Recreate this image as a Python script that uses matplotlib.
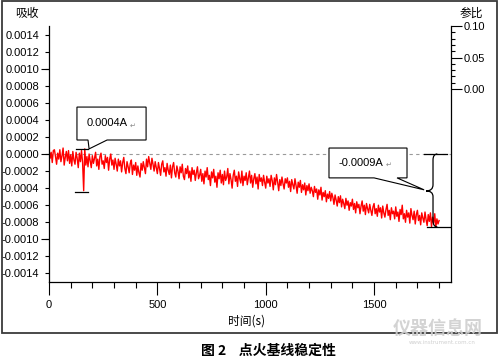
import numpy as np
import matplotlib
matplotlib.use("Agg")
import matplotlib.pyplot as plt
from matplotlib.patches import Polygon, Rectangle, PathPatch
from matplotlib.path import Path
from matplotlib.ticker import FixedLocator

plt.rcParams['font.family'] = ['Liberation Sans', 'DejaVu Sans']
plt.rcParams['axes.unicode_minus'] = False
CJK = ['Noto Sans CJK SC', 'DejaVu Sans']

# ---- data (time step 5 s, absorbance in units of 1e-4 A) ----
absorb_e4 = [
    0.6, -0.5, 0.2, -1.0, 0.4, 0.5, -0.3, -1.2, 0.1, -0.6, 0.5, -0.9, -0.2, 0.7, -1.3, -0.4, 0.3, -0.8, 0.4, -1.1,
    -0.1, -1.4, 0.3, -0.7, -1.2, 0.2, -0.5, -1.6, 0.1, -0.9, 0.4, -1.0, -4.3, 0.6, -1.3, -0.3, -1.5, 0.0, -0.8, -1.6,
    -0.2, -1.1, -0.5, 0.2, -1.4, -0.6, -1.8, -0.3, 0.1, -1.2, -0.8, -1.7, -0.2, -1.0, -0.4, -1.9, -0.6, 0.0, -1.3, -0.7,
    -1.8, -0.5, -1.2, -2.0, -0.6, -1.4, -0.8, -2.1, -1.0, -0.4, -1.7, -2.3, -0.9, -1.5, -2.2, -1.1, -0.7, -2.4, -1.3, -1.9,
    -1.0, -2.5, -1.4, -2.2, -2.7, -1.1, -1.9, -0.9, -1.6, -2.3, -0.6, -1.5, -0.3, -1.1, -1.8, -0.5, -1.2, -2.0, -0.9, -1.6,
    -2.3, -1.0, -1.7, -2.5, -1.2, -0.8, -2.1, -1.6, -2.6, -1.1, -1.9, -2.4, -1.3, -2.8, -1.5, -1.0, -2.2, -2.7, -1.4, -2.0,
    -2.9, -1.5, -2.2, -1.2, -2.6, -3.0, -1.7, -2.3, -1.4, -2.8, -2.0, -3.2, -1.6, -2.4, -1.9, -3.1, -2.2, -1.5, -2.9, -2.5,
    -1.8, -3.2, -2.3, -3.5, -2.0, -2.7, -1.6, -3.0, -2.5, -3.7, -2.1, -2.8, -1.8, -3.3, -2.6, -3.9, -2.2, -2.9, -1.9, -3.4,
    -2.4, -3.6, -2.0, -3.1, -2.7, -1.7, -3.5, -2.3, -3.0, -4.0, -2.5, -1.9, -3.2, -2.6, -3.8, -2.1, -2.9, -3.4, -2.0, -3.7,
    -2.6, -3.1, -2.2, -3.6, -2.8, -2.0, -3.4, -2.5, -3.9, -2.9, -2.3, -3.5, -2.7, -4.1, -2.4, -3.2, -2.8, -3.7, -2.5, -3.3,
    -4.0, -2.6, -3.4, -2.9, -3.8, -2.5, -3.1, -4.2, -2.8, -3.6, -2.4, -3.3, -4.3, -3.0, -3.7, -2.7, -3.5, -4.1, -2.9, -3.4,
    -2.8, -3.9, -3.2, -4.4, -3.0, -3.6, -4.1, -2.9, -3.7, -4.6, -3.3, -3.9, -3.1, -4.5, -3.6, -4.2, -3.4, -4.8, -3.7, -4.3,
    -3.5, -4.6, -3.9, -4.3, -5.0, -3.8, -4.5, -4.1, -5.3, -4.2, -4.8, -3.9, -5.4, -4.5, -5.0, -4.3, -5.6, -4.7, -5.2, -4.4,
    -5.5, -4.6, -5.1, -5.9, -4.8, -5.4, -6.1, -5.0, -5.7, -4.9, -6.2, -5.3, -5.8, -6.4, -5.2, -6.0, -5.5, -6.6, -5.7, -6.1,
    -5.3, -6.5, -5.8, -6.9, -5.6, -6.3, -5.9, -7.0, -6.1, -5.5, -6.7, -6.0, -7.1, -5.8, -6.4, -6.9, -5.9, -6.6, -7.2, -6.2,
    -5.8, -7.0, -6.4, -7.3, -6.0, -6.8, -6.3, -7.5, -6.1, -6.9, -7.4, -6.5, -5.9, -7.2, -6.6, -7.7, -6.3, -7.0, -6.7, -7.6,
    -6.2, -7.3, -6.8, -7.9, -6.5, -7.1, -6.0, -7.6, -7.0, -8.0, -6.6, -7.4, -6.9, -8.1, -6.4, -7.2, -7.7, -6.7, -8.2, -7.1,
    -6.6, -7.8, -7.2, -8.3, -6.9, -7.5, -8.0, -6.8, -7.7, -8.4, -7.1, -7.9, -6.9, -8.5, -7.4, -8.1, -7.0, -8.6, -7.6, -8.2,
    -7.8,
]
time_step_s = 5
time_s = np.arange(len(absorb_e4)) * time_step_s
absorb = np.array(absorb_e4) * 1e-4

y_ticks = [-0.0014, -0.0012, -0.0010, -0.0008, -0.0006, -0.0004, -0.0002,
           0.0, 0.0002, 0.0004, 0.0006, 0.0008, 0.0010, 0.0012, 0.0014]
y_labels = ['-0.0014', '-0.0012', '-0.0010', '-0.0008', '-0.0006', '-0.0004',
            '-0.0002', '0.0000', '0.0002', '0.0004', '0.0006', '0.0008',
            '0.0010', '0.0012', '0.0014']
x_ticks = [0, 500, 1000, 1500]
x_labels = ['0', '500', '1000', '1500']
ref_ticks = [0.0, 0.05, 0.10]
ref_labels = ['0.00', '0.05', '0.10']

fig = plt.figure(figsize=(5, 3.6), dpi=100)
ax = fig.add_axes([49/500, 1-282/360, (451-49)/500, (282-26)/360])

ax.plot(time_s, absorb, color='#ff0000', lw=1.0, zorder=2)
ax.axhline(0, color='#9a9a9a', ls=(0, (3, 3)), lw=0.8, zorder=1)

ax.set_xlim(0, 1855)
ax.set_ylim(-0.0015, 0.0015)
ax.set_yticks(y_ticks)
ax.set_yticklabels(y_labels)
ax.yaxis.set_minor_locator(FixedLocator([-0.0010, 0.0, 0.0010]))
ax.yaxis.remove_overlapping_locs = False
ax.tick_params(axis='y', which='major', length=3, width=0.8, pad=4, labelsize=8)
ax.tick_params(axis='y', which='minor', length=6, width=0.8)
ax.set_xticks(x_ticks)
ax.set_xticklabels(x_labels)
ax.xaxis.set_minor_locator(FixedLocator(list(range(100, 1801, 100))))
ax.tick_params(axis='x', which='major', length=9, width=0.8, pad=4, labelsize=8)
ax.tick_params(axis='x', which='minor', length=4, width=0.8)
for s in ['top', 'right']:
    ax.spines[s].set_visible(False)
for s in ['left', 'bottom']:
    ax.spines[s].set_linewidth(0.9)

ax2 = ax.twinx()
ax2.set_ylim(-0.306, 0.10)
ax2.set_yticks(ref_ticks)
ax2.set_yticklabels(ref_labels)
ax2.yaxis.set_minor_locator(FixedLocator([0.01, 0.02, 0.03, 0.04, 0.06, 0.07, 0.08, 0.09]))
ax2.tick_params(axis='y', which='major', length=8, width=0.8, pad=1, labelsize=8)
ax2.tick_params(axis='y', which='minor', length=3, width=0.8)
for s in ['top', 'left', 'bottom']:
    ax2.spines[s].set_visible(False)
ax2.spines['right'].set_linewidth(0.9)

# axis titles
fig.text(27/500, 1-14/360, '吸收', family=CJK, fontsize=8.5, ha='center', va='center')
fig.text(471/500, 1-13/360, '参比', family=CJK, fontsize=8.5, ha='center', va='center')
fig.text(247/500, 1-321/360, '时间(s)', family=CJK, fontsize=8.5, ha='center', va='center')

# callout 1
box1 = Polygon([(129, 0.00055), (448, 0.00055), (448, 0.000164), (268, 0.000164),
                (185, 0.00006), (180, 0.000164), (129, 0.000164)],
               closed=True, fc='white', ec='black', lw=0.8, zorder=5)
ax.add_patch(box1)
ax.text(175, 0.00036, '0.0004A', family=['Liberation Sans', 'DejaVu Sans'],
        fontsize=8, ha='left', va='center', zorder=6)
ax.text(372, 0.00033, '↵', family=['DejaVu Sans'], fontsize=5, color='#888888',
        ha='left', va='center', zorder=6)
ax.plot([125, 182], [0.00006, 0.00006], color='black', lw=0.9, zorder=4)
ax.plot([120, 180], [-0.00044, -0.00044], color='black', lw=0.9, zorder=4)

# callout 2
box2 = Polygon([(1292, 0.00007), (1652, 0.00007), (1652, -0.00028), (1606, -0.00028),
                (1731, -0.00042), (1500, -0.00028), (1292, -0.00028)],
               closed=True, fc='white', ec='black', lw=0.8, zorder=5)
ax.add_patch(box2)
ax.text(1334, -0.000105, '-0.0009A', family=['Liberation Sans', 'DejaVu Sans'],
        fontsize=8, ha='left', va='center', zorder=6)
ax.text(1555, -0.00013, '↵', family=['DejaVu Sans'], fontsize=5, color='#888888',
        ha='left', va='center', zorder=6)

# brace with bounding lines
ax.plot([1730, 1837], [0, 0], color='black', lw=0.9, zorder=4)
ax.plot([1744, 1851], [-0.000854, -0.000854], color='black', lw=0.9, zorder=4)
verts = [(1792, 0.0), (1772, 0.0), (1772, -0.00007),
         (1772, -0.00036),
         (1772, -0.000433), (1740, -0.000433),
         (1772, -0.000433), (1772, -0.0005),
         (1772, -0.00078),
         (1772, -0.000854), (1792, -0.000854)]
codes = [Path.MOVETO, Path.CURVE3, Path.CURVE3, Path.LINETO,
         Path.CURVE3, Path.CURVE3, Path.CURVE3, Path.CURVE3,
         Path.LINETO, Path.CURVE3, Path.CURVE3]
ax.add_patch(PathPatch(Path(verts, codes), fc='none', ec='black', lw=0.9, zorder=4))

# outer frame
fig.patches.append(Rectangle((2/500, 1-333/360), 495/500, 332/360, transform=fig.transFigure,
                             fill=False, ec='#3a3a3a', lw=1.3))

# watermark
fig.text(438/500, 1-328/360, '仪器信息网', family=CJK, fontsize=13, fontweight='bold',
         color='#cfcfcf', ha='center', va='center', alpha=0.9)
fig.text(442/500, 1-342/360, 'www.instrument.com.cn', family=['DejaVu Sans'], fontsize=4,
         color='#d0d0d0', ha='center', va='center')

# caption
fig.text(268/500, 1-351/360, '图 2    点火基线稳定性', family=CJK, fontsize=10,
         fontweight='bold', ha='center', va='center')

fig.savefig('out.png', dpi=100)
